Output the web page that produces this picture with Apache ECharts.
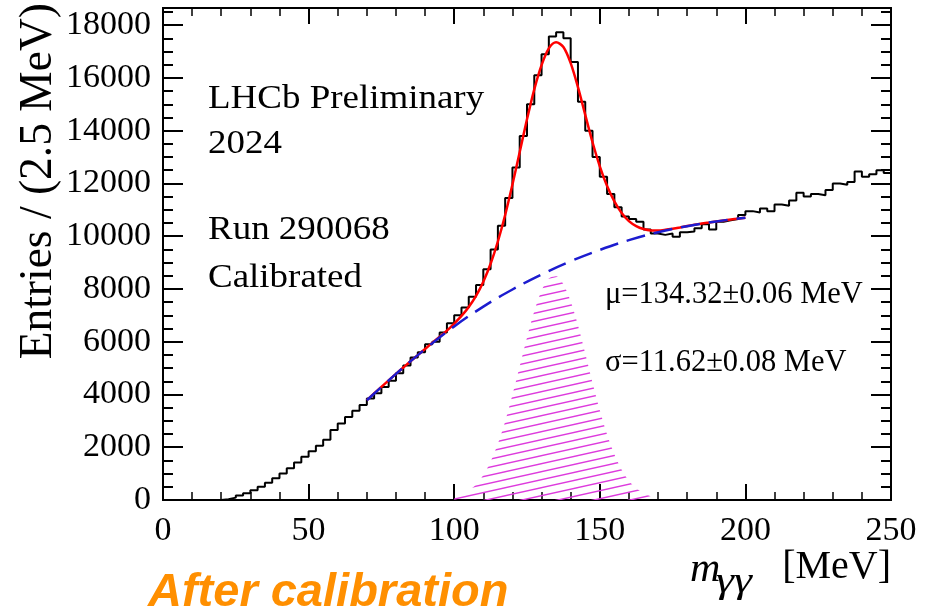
<!DOCTYPE html>
<html><head><meta charset="utf-8">
<script src="https://cdn.jsdelivr.net/npm/echarts@6/dist/echarts.min.js"></script>
<style>html,body{margin:0;padding:0;background:#fff}#c{width:925px;height:611px}</style>
</head><body><div id="c"></div>
<script>
// ---- data ----
const binWidth = 2.5; // MeV
const counts = [
  0,0,0,0,0,0,0,0,30,90,
  170,260,370,500,650,820,1000,1200,1420,1640,
  1850,2060,2280,2650,2900,3150,3380,3600,3850,4050,
  4280,4520,4800,5100,5400,5600,5900,6000,6350,6700,
  7000,7300,7700,8150,8750,9500,10400,11450,12600,13800,
  15000,16100,16900,17570,17730,17500,16600,15100,14000,13000,
  12250,11600,11100,10750,10650,10550,10250,10100,10050,10100,
  9980,10150,10180,10300,10450,10250,10550,10600,10650,10800,
  10950,10900,11050,10950,11200,11150,11350,11650,11500,11600,
  11550,11750,12000,11950,12050,12450,12250,12350,12500,12400
];
const fitMass  = [70,72.5,75,77.5,80,82.5,85,87.5,90,92.5,95,97.5,100,102.5,105,107.5,110,112.5,115,117.5,120,122.5,125,127.5,130,132.5,135,137.5,140,142.5,145,147.5,150,152.5,155,157.5,160,162.5,165,167.5,170,172.5,175,177.5,180,182.5,185,187.5,190,192.5,195,197.5,200];
const fitValue = [3780,4040,4290,4535,4780,5020,5260,5492,5726,5958,6187,6420,6687,6978,7320,7739,8277,8954,9799,10803,11956,13191,14433,15567,16485,17120,17350,17170,16560,15650,14600,13560,12650,11900,11320,10880,10570,10380,10270,10220,10215,10240,10280,10330,10385,10435,10480,10520,10560,10595,10630,10665,10700];
const bkgMass  = [70,80,90,100,110,120,130,140,150,160,170,180,190,200];
const bkgValue = [3780,4780,5720,6580,7330,7980,8550,9050,9480,9850,10150,10380,10560,10700];
const sigMass  = [100,102.5,105,107.5,110,112.5,115,117.5,120,122.5,125,127.5,130,132.5,135,137.5,140,142.5,145,147.5,150,152.5,155,157.5,160,162.5,165,167.5];
const sigValue = [107,198,350,589,947,1454,2129,2978,3976,5066,6163,7157,7935,8398,8484,8182,7532,6620,5555,4449,3401,2482,1730,1150,730,442,256,141];
const xRange = [0, 250];
const yRange = [0, 18650];

// ---- chart ----
const SERIF = '"Liberation Serif", "Times New Roman", serif';
function hatchCanvas() {
  const W = 36, H = 8;
  const c = document.createElement('canvas'); c.width = W; c.height = H;
  const g = c.getContext('2d');
  g.strokeStyle = '#dd3bdd'; g.lineWidth = 1.4;
  for (const dx of [-W, 0, W]) for (const dy of [-H, 0, H]) {
    g.beginPath(); g.moveTo(dx, H + dy); g.lineTo(dx + W, dy); g.stroke();
  }
  return c;
}
const lineBlack = {color: '#000', width: 2};
function xAx(pos, label) {
  return {type: 'value', min: xRange[0], max: xRange[1], interval: 50, position: pos,
    axisLine: {show: true, onZero: false, lineStyle: lineBlack},
    axisTick: {show: true, inside: true, length: 16, lineStyle: {color: '#000', width: 2}},
    minorTick: {show: true, splitNumber: 5, length: 8, lineStyle: {color: '#000', width: 1.5}},
    axisLabel: {show: label, fontFamily: SERIF, fontSize: 34, color: '#000', margin: 14,
                formatter: v => String(v)},
    splitLine: {show: false}, minorSplitLine: {show: false}};
}
function yAx(pos, interval, len, label) {
  return {type: 'value', min: yRange[0], max: yRange[1], interval: interval, position: pos,
    axisLine: {show: true, onZero: false, lineStyle: lineBlack},
    axisTick: {show: true, inside: true, length: len, lineStyle: {color: '#000', width: 2}},
    axisLabel: {show: label, showMaxLabel: false, fontFamily: SERIF, fontSize: 34, color: '#000', margin: 12,
                formatter: v => String(v)},
    splitLine: {show: false}};
}
const histData = counts.map((v, i) => [i * binWidth, v]);
histData.push([counts.length * binWidth, counts[counts.length - 1]]);

const chart = echarts.init(document.getElementById('c'), null, {renderer: 'canvas'});
chart.setOption({
  animation: false,
  backgroundColor: '#fff',
  grid: {left: 163, right: 34, top: 8, bottom: 111, containLabel: false, outerBoundsMode: 'none'},
  xAxis: [xAx('bottom', true), xAx('top', false)],
  yAxis: [yAx('left', 2000, 20, true), yAx('left', 500, 10, false),
          yAx('right', 2000, 20, false), yAx('right', 500, 10, false)],
  series: [
    {type: 'line', name: 'signal', xAxisIndex: 0, yAxisIndex: 0, z: 1,
     data: sigMass.map((m, i) => [m, sigValue[i]]), smooth: 0.3, symbol: 'none',
     lineStyle: {width: 0, opacity: 0},
     areaStyle: {color: {image: hatchCanvas(), repeat: 'repeat'}, opacity: 1}},
    {type: 'line', name: 'data', xAxisIndex: 0, yAxisIndex: 0, z: 2,
     data: histData, step: 'end', symbol: 'none', lineStyle: {color: '#000', width: 2}},
    {type: 'line', name: 'fit', xAxisIndex: 0, yAxisIndex: 0, z: 3,
     data: fitMass.map((m, i) => [m, fitValue[i]]), smooth: 0.3, symbol: 'none',
     lineStyle: {color: '#ff0000', width: 2.5}},
    {type: 'line', name: 'background', xAxisIndex: 0, yAxisIndex: 0, z: 4,
     data: bkgMass.map((m, i) => [m, bkgValue[i]]), smooth: 0.4, symbol: 'none',
     lineStyle: {color: '#1c1ccf', width: 2.5, type: [19, 9]}}
  ],
  graphic: [
    {type: 'text', x: 39, y: 3, rotation: Math.PI / 2, z: 10,
     style: {text: 'Entries / (2.5 MeV)', font: '45.5px ' + SERIF, fill: '#000', align: 'right', verticalAlign: 'middle'}},
    {type: 'text', x: 208, y: 99, scaleX: 1.12, style: {text: 'LHCb Preliminary', font: '33px ' + SERIF, fill: '#000', verticalAlign: 'middle'}},
    {type: 'text', x: 208, y: 144, scaleX: 1.12, style: {text: '2024', font: '33px ' + SERIF, fill: '#000', verticalAlign: 'middle'}},
    {type: 'text', x: 208, y: 230, scaleX: 1.12, style: {text: 'Run 290068', font: '33px ' + SERIF, fill: '#000', verticalAlign: 'middle'}},
    {type: 'text', x: 208, y: 278, scaleX: 1.12, style: {text: 'Calibrated', font: '33px ' + SERIF, fill: '#000', verticalAlign: 'middle'}},
    {type: 'text', x: 605, y: 295, style: {text: 'μ=134.32±0.06 MeV', font: '30.5px ' + SERIF, fill: '#000', verticalAlign: 'middle'}},
    {type: 'text', x: 605, y: 363, style: {text: 'σ=11.62±0.08 MeV', font: '30.5px ' + SERIF, fill: '#000', verticalAlign: 'middle'}},
    {type: 'text', x: 690, y: 570, style: {text: 'm', font: 'italic 42px ' + SERIF, fill: '#000', verticalAlign: 'middle'}},
    {type: 'text', x: 716, y: 583, scaleX: 1.3, style: {text: 'γγ', font: 'italic 35px ' + SERIF, fill: '#000', verticalAlign: 'middle'}},
    {type: 'text', x: 891, y: 567, style: {text: '[MeV]', font: '40px ' + SERIF, fill: '#000', align: 'right', verticalAlign: 'middle'}},
    {type: 'text', x: 148, y: 593, style: {text: 'After calibration', font: 'italic bold 47px "Liberation Sans", Arial, sans-serif', fill: '#ff8f00', verticalAlign: 'middle'}}
  ]
});
</script>
</body></html>
